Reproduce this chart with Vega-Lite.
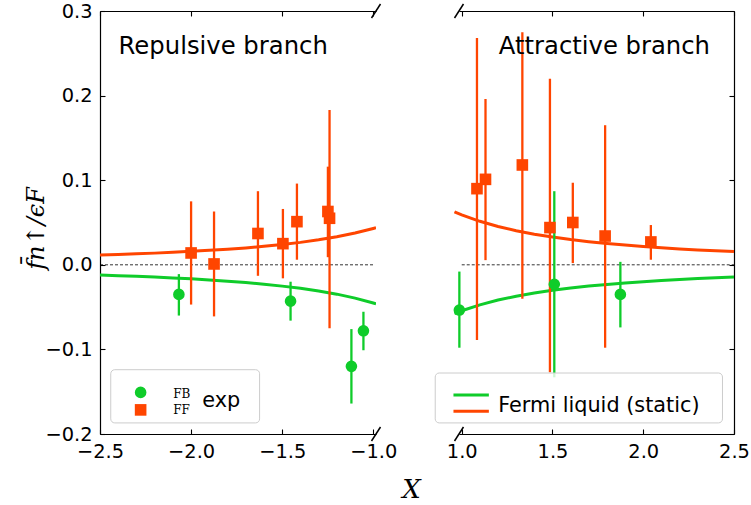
{
  "$schema": "https://vega.github.io/schema/vega-lite/v6.json",
  "background": "white",
  "padding": {"left": 24, "top": 1, "right": 0, "bottom": 0},
  "spacing": 83,
  "bounds": "flush",
  "config": {
    "view": {"stroke": null},
    "font": "DejaVu Sans",
    "axis": {
      "domainColor": "black", "domainWidth": 1.2, "tickColor": "black", "tickWidth": 1.1,
      "labelFont": "DejaVu Sans", "labelFontSize": 19.4, "labelColor": "black", "grid": false,
      "tickSize": -5, "labelPadding": 13, "labelFlush": false, "labelOverlap": false
    }
  },
  "datasets": {
    "leftPts": [
      {"x": -2.0, "y": 0.014, "lo": -0.047, "hi": 0.075, "series": "FF"},
      {"x": -1.874, "y": 0.001, "lo": -0.061, "hi": 0.063, "series": "FF"},
      {"x": -1.633, "y": 0.037, "lo": -0.013, "hi": 0.087, "series": "FF"},
      {"x": -1.496, "y": 0.025, "lo": -0.016, "hi": 0.066, "series": "FF"},
      {"x": -1.419, "y": 0.051, "lo": 0.006, "hi": 0.096, "series": "FF"},
      {"x": -1.249, "y": 0.063, "lo": 0.009, "hi": 0.116, "series": "FF"},
      {"x": -1.240, "y": 0.055, "lo": -0.075, "hi": 0.183, "series": "FF"},
      {"x": -2.067, "y": -0.035, "lo": -0.060, "hi": -0.011, "series": "FB"},
      {"x": -1.454, "y": -0.043, "lo": -0.066, "hi": -0.020, "series": "FB"},
      {"x": -1.120, "y": -0.120, "lo": -0.164, "hi": -0.076, "series": "FB"},
      {"x": -1.054, "y": -0.078, "lo": -0.101, "hi": -0.0555, "series": "FB"}
    ],
    "rightPts": [
      {"x": 1.084, "y": 0.090, "lo": -0.089, "hi": 0.268, "series": "FF"},
      {"x": 1.131, "y": 0.101, "lo": 0.0055, "hi": 0.196, "series": "FF"},
      {"x": 1.334, "y": 0.118, "lo": -0.040, "hi": 0.275, "series": "FF"},
      {"x": 1.486, "y": 0.044, "lo": -0.127, "hi": 0.220, "series": "FF"},
      {"x": 1.612, "y": 0.050, "lo": 0.002, "hi": 0.097, "series": "FF"},
      {"x": 1.790, "y": 0.034, "lo": -0.098, "hi": 0.165, "series": "FF"},
      {"x": 2.042, "y": 0.027, "lo": 0.006, "hi": 0.047, "series": "FF"},
      {"x": 0.987, "y": -0.0535, "lo": -0.098, "hi": -0.008, "series": "FB"},
      {"x": 1.510, "y": -0.023, "lo": -0.133, "hi": 0.087, "series": "FB"},
      {"x": 1.874, "y": -0.035, "lo": -0.074, "hi": 0.0035, "series": "FB"}
    ],
    "leftCurve": [
      {"x": -2.5, "y": 0.0115, "series": "FF"}, {"x": -2.4, "y": 0.0122, "series": "FF"},
      {"x": -2.3, "y": 0.0130, "series": "FF"}, {"x": -2.2, "y": 0.0138, "series": "FF"},
      {"x": -2.1, "y": 0.0148, "series": "FF"}, {"x": -2.0, "y": 0.0159, "series": "FF"},
      {"x": -1.9, "y": 0.0171, "series": "FF"}, {"x": -1.8, "y": 0.0185, "series": "FF"},
      {"x": -1.7, "y": 0.0200, "series": "FF"}, {"x": -1.6, "y": 0.0219, "series": "FF"},
      {"x": -1.5, "y": 0.0240, "series": "FF"}, {"x": -1.4, "y": 0.0265, "series": "FF"},
      {"x": -1.3, "y": 0.0295, "series": "FF"}, {"x": -1.2, "y": 0.0331, "series": "FF"},
      {"x": -1.1, "y": 0.0375, "series": "FF"}, {"x": -1.0, "y": 0.0430, "series": "FF"},
      {"x": -0.985, "y": 0.0439, "series": "FF"},
      {"x": -2.5, "y": -0.0121, "series": "FB"}, {"x": -2.4, "y": -0.0128, "series": "FB"},
      {"x": -2.3, "y": -0.0136, "series": "FB"}, {"x": -2.2, "y": -0.0145, "series": "FB"},
      {"x": -2.1, "y": -0.0155, "series": "FB"}, {"x": -2.0, "y": -0.0166, "series": "FB"},
      {"x": -1.9, "y": -0.0179, "series": "FB"}, {"x": -1.8, "y": -0.0194, "series": "FB"},
      {"x": -1.7, "y": -0.0210, "series": "FB"}, {"x": -1.6, "y": -0.0229, "series": "FB"},
      {"x": -1.5, "y": -0.0252, "series": "FB"}, {"x": -1.4, "y": -0.0278, "series": "FB"},
      {"x": -1.3, "y": -0.0309, "series": "FB"}, {"x": -1.2, "y": -0.0347, "series": "FB"},
      {"x": -1.1, "y": -0.0394, "series": "FB"}, {"x": -1.0, "y": -0.0452, "series": "FB"},
      {"x": -0.985, "y": -0.0462, "series": "FB"}
    ],
    "rightCurve": [
      {"x": 0.96, "y": 0.0626, "series": "FF"}, {"x": 1.0, "y": 0.0590, "series": "FF"},
      {"x": 1.1, "y": 0.0514, "series": "FF"}, {"x": 1.2, "y": 0.0453, "series": "FF"},
      {"x": 1.3, "y": 0.0403, "series": "FF"}, {"x": 1.4, "y": 0.0362, "series": "FF"},
      {"x": 1.5, "y": 0.0328, "series": "FF"}, {"x": 1.6, "y": 0.0298, "series": "FF"},
      {"x": 1.7, "y": 0.0273, "series": "FF"}, {"x": 1.8, "y": 0.0252, "series": "FF"},
      {"x": 1.9, "y": 0.0233, "series": "FF"}, {"x": 2.0, "y": 0.0216, "series": "FF"},
      {"x": 2.1, "y": 0.0201, "series": "FF"}, {"x": 2.2, "y": 0.0188, "series": "FF"},
      {"x": 2.3, "y": 0.0176, "series": "FF"}, {"x": 2.4, "y": 0.0166, "series": "FF"},
      {"x": 2.5, "y": 0.0156, "series": "FF"},
      {"x": 0.96, "y": -0.0576, "series": "FB"}, {"x": 1.0, "y": -0.0543, "series": "FB"},
      {"x": 1.1, "y": -0.0473, "series": "FB"}, {"x": 1.2, "y": -0.0417, "series": "FB"},
      {"x": 1.3, "y": -0.0371, "series": "FB"}, {"x": 1.4, "y": -0.0333, "series": "FB"},
      {"x": 1.5, "y": -0.0302, "series": "FB"}, {"x": 1.6, "y": -0.0274, "series": "FB"},
      {"x": 1.7, "y": -0.0251, "series": "FB"}, {"x": 1.8, "y": -0.0232, "series": "FB"},
      {"x": 1.9, "y": -0.0214, "series": "FB"}, {"x": 2.0, "y": -0.0199, "series": "FB"},
      {"x": 2.1, "y": -0.0185, "series": "FB"}, {"x": 2.2, "y": -0.0173, "series": "FB"},
      {"x": 2.3, "y": -0.0162, "series": "FB"}, {"x": 2.4, "y": -0.0153, "series": "FB"},
      {"x": 2.5, "y": -0.0144, "series": "FB"}
    ],
    "leftZero": [{"x": -2.5, "x2": -1.0, "y": 0}],
    "rightZero": [{"x": 1.0, "x2": 2.5, "y": 0}],
    "leftBreaks": [
      {"x": -1.0097, "x2": -0.9603, "y": 0.2917, "y2": 0.3083},
      {"x": -1.0097, "x2": -0.9603, "y": -0.2083, "y2": -0.1917}
    ],
    "rightBreaks": [
      {"x": 0.9603, "x2": 1.0097, "y": 0.2917, "y2": 0.3083},
      {"x": 0.9603, "x2": 1.0097, "y": -0.2083, "y2": -0.1917}
    ],
    "leftLabel": [{"x": -2.398, "y": 0.2496, "text": "Repulsive branch"}],
    "rightLabel": [{"x": 1.204, "y": 0.2496, "text": "Attractive branch"}],
    "leftLegendBox": [{"x": -2.441, "x2": -1.624, "y": -0.124, "y2": -0.1869}],
    "leftLegendPts": [
      {"x": -2.277, "y": -0.1508, "series": "FB"},
      {"x": -2.277, "y": -0.1715, "series": "FF"}
    ],
    "leftLegendSmall": [
      {"x": -2.098, "y": -0.1579, "text": "FB"},
      {"x": -2.098, "y": -0.1763, "text": "FF"}
    ],
    "leftLegendText": [{"x": -1.939, "y": -0.1685, "text": "exp"}],
    "rightLegendBox": [{"x": 0.854, "x2": 2.4365, "y": -0.1279, "y2": -0.1869}],
    "rightLegendLines": [
      {"x": 0.9545, "x2": 1.1495, "y": -0.1538, "series": "FB"},
      {"x": 0.9545, "x2": 1.1495, "y": -0.1732, "series": "FF"}
    ],
    "rightLegendText": [{"x": 1.201, "y": -0.1744, "text": "Fermi liquid (static)"}]
  },
  "hconcat": [
    {
      "width": 276,
      "height": 423,
      "resolve": {"axis": {"x": "independent", "y": "independent"}},
      "layer": [
        {
          "data": {"name": "leftZero"},
          "mark": {"type": "rule", "color": "black", "strokeWidth": 0.8, "strokeDash": [3, 2]},
          "encoding": {
            "x": {"field": "x", "type": "quantitative", "scale": {"domain": [-2.5, -0.985], "nice": false, "zero": false},
              "axis": {"orient": "bottom", "values": [-2.5, -2, -1.5, -1], "format": ".1f",
                "title": "X", "titleX": 311, "titleY": 55, "titleAlign": "center", "titleBaseline": "middle",
                "titleFont": "DejaVu Serif", "titleFontStyle": "italic", "titleFontWeight": "normal", "titleFontSize": 26, "titleColor": "black"}},
            "x2": {"field": "x2"},
            "y": {"field": "y", "type": "quantitative", "scale": {"domain": [-0.2, 0.3], "nice": false, "zero": false},
              "axis": {"orient": "left", "values": [-0.2, -0.1, 0, 0.1, 0.2, 0.3], "format": ".1f",
                "title": "f̄n↑/ϵF", "titleX": -64, "titleY": 217, "titleAlign": "center", "titleBaseline": "middle", "titleAngle": 270,
                "titleFont": "DejaVu Serif", "titleFontStyle": "italic", "titleFontWeight": "normal", "titleFontSize": 24, "titleColor": "black"}}
          }
        },
        {
          "data": {"name": "leftCurve"},
          "mark": {"type": "line", "strokeWidth": 3, "clip": true},
          "encoding": {
            "x": {"field": "x", "type": "quantitative", "axis": {"orient": "top", "values": [-2.5, -2, -1.5, -1], "labels": false, "title": null}},
            "y": {"field": "y", "type": "quantitative", "axis": null},
            "color": {"field": "series", "type": "nominal", "scale": {"domain": ["FB", "FF"], "range": ["#0fcc2a", "#ff4500"]}, "legend": null},
            "detail": {"field": "series"}
          }
        },
        {
          "data": {"name": "leftPts"},
          "mark": {"type": "rule", "strokeWidth": 2.3},
          "encoding": {
            "x": {"field": "x", "type": "quantitative", "axis": null},
            "y": {"field": "lo", "type": "quantitative", "axis": null},
            "y2": {"field": "hi"},
            "color": {"field": "series", "type": "nominal", "legend": null}
          }
        },
        {
          "data": {"name": "leftPts"},
          "mark": {"type": "point", "filled": true, "opacity": 1, "size": 135},
          "encoding": {
            "x": {"field": "x", "type": "quantitative", "axis": null},
            "y": {"field": "y", "type": "quantitative", "axis": null},
            "color": {"field": "series", "type": "nominal", "legend": null},
            "shape": {"field": "series", "type": "nominal", "scale": {"domain": ["FB", "FF"], "range": ["circle", "square"]}, "legend": null}
          }
        },
        {
          "data": {"name": "leftLabel"},
          "mark": {"type": "text", "fontSize": 24.3, "align": "left", "baseline": "alphabetic", "color": "black", "font": "DejaVu Sans"},
          "encoding": {
            "x": {"field": "x", "type": "quantitative", "axis": null},
            "y": {"field": "y", "type": "quantitative", "axis": null},
            "text": {"field": "text"}
          }
        },
        {
          "data": {"name": "leftBreaks"},
          "mark": {"type": "rule", "color": "black", "strokeWidth": 1.5, "clip": false},
          "encoding": {
            "x": {"field": "x", "type": "quantitative", "axis": null},
            "x2": {"field": "x2"},
            "y": {"field": "y", "type": "quantitative", "axis": null},
            "y2": {"field": "y2"}
          }
        },
        {
          "data": {"name": "leftLegendBox"},
          "mark": {"type": "rect", "fill": "white", "fillOpacity": 0.8, "stroke": "#cccccc", "strokeWidth": 1, "cornerRadius": 4},
          "encoding": {
            "x": {"field": "x", "type": "quantitative", "axis": null},
            "x2": {"field": "x2"},
            "y": {"field": "y", "type": "quantitative", "axis": null},
            "y2": {"field": "y2"}
          }
        },
        {
          "data": {"name": "leftLegendPts"},
          "mark": {"type": "point", "filled": true, "opacity": 1, "size": 135},
          "encoding": {
            "x": {"field": "x", "type": "quantitative", "axis": null},
            "y": {"field": "y", "type": "quantitative", "axis": null},
            "color": {"field": "series", "type": "nominal", "legend": null},
            "shape": {"field": "series", "type": "nominal", "legend": null}
          }
        },
        {
          "data": {"name": "leftLegendSmall"},
          "mark": {"type": "text", "fontSize": 12, "align": "left", "baseline": "alphabetic", "color": "black", "font": "DejaVu Serif"},
          "encoding": {
            "x": {"field": "x", "type": "quantitative", "axis": null},
            "y": {"field": "y", "type": "quantitative", "axis": null},
            "text": {"field": "text"}
          }
        },
        {
          "data": {"name": "leftLegendText"},
          "mark": {"type": "text", "fontSize": 20.8, "align": "left", "baseline": "alphabetic", "color": "black", "font": "DejaVu Sans"},
          "encoding": {
            "x": {"field": "x", "type": "quantitative", "axis": null},
            "y": {"field": "y", "type": "quantitative", "axis": null},
            "text": {"field": "text"}
          }
        }
      ]
    },
    {
      "width": 275,
      "height": 423,
      "resolve": {"axis": {"x": "independent", "y": "independent"}},
      "layer": [
        {
          "data": {"name": "rightZero"},
          "mark": {"type": "rule", "color": "black", "strokeWidth": 0.8, "strokeDash": [3, 2]},
          "encoding": {
            "x": {"field": "x", "type": "quantitative", "scale": {"domain": [0.985, 2.5], "nice": false, "zero": false},
              "axis": {"orient": "bottom", "values": [1, 1.5, 2, 2.5], "format": ".1f", "title": null}},
            "x2": {"field": "x2"},
            "y": {"field": "y", "type": "quantitative", "scale": {"domain": [-0.2, 0.3], "nice": false, "zero": false},
              "axis": {"orient": "right", "values": [-0.2, -0.1, 0, 0.1, 0.2, 0.3], "labels": false, "title": null}}
          }
        },
        {
          "data": {"name": "rightCurve"},
          "mark": {"type": "line", "strokeWidth": 3, "clip": false},
          "encoding": {
            "x": {"field": "x", "type": "quantitative", "axis": {"orient": "top", "values": [1, 1.5, 2, 2.5], "labels": false, "title": null}},
            "y": {"field": "y", "type": "quantitative", "axis": null},
            "color": {"field": "series", "type": "nominal", "scale": {"domain": ["FB", "FF"], "range": ["#0fcc2a", "#ff4500"]}, "legend": null},
            "detail": {"field": "series"}
          }
        },
        {
          "data": {"name": "rightPts"},
          "mark": {"type": "rule", "strokeWidth": 2.3},
          "encoding": {
            "x": {"field": "x", "type": "quantitative", "axis": null},
            "y": {"field": "lo", "type": "quantitative", "axis": null},
            "y2": {"field": "hi"},
            "color": {"field": "series", "type": "nominal", "legend": null}
          }
        },
        {
          "data": {"name": "rightPts"},
          "mark": {"type": "point", "filled": true, "opacity": 1, "size": 135},
          "encoding": {
            "x": {"field": "x", "type": "quantitative", "axis": null},
            "y": {"field": "y", "type": "quantitative", "axis": null},
            "color": {"field": "series", "type": "nominal", "legend": null},
            "shape": {"field": "series", "type": "nominal", "scale": {"domain": ["FB", "FF"], "range": ["circle", "square"]}, "legend": null}
          }
        },
        {
          "data": {"name": "rightLabel"},
          "mark": {"type": "text", "fontSize": 24.3, "align": "left", "baseline": "alphabetic", "color": "black", "font": "DejaVu Sans"},
          "encoding": {
            "x": {"field": "x", "type": "quantitative", "axis": null},
            "y": {"field": "y", "type": "quantitative", "axis": null},
            "text": {"field": "text"}
          }
        },
        {
          "data": {"name": "rightBreaks"},
          "mark": {"type": "rule", "color": "black", "strokeWidth": 1.5, "clip": false},
          "encoding": {
            "x": {"field": "x", "type": "quantitative", "axis": null},
            "x2": {"field": "x2"},
            "y": {"field": "y", "type": "quantitative", "axis": null},
            "y2": {"field": "y2"}
          }
        },
        {
          "data": {"name": "rightLegendBox"},
          "mark": {"type": "rect", "fill": "white", "fillOpacity": 0.8, "stroke": "#cccccc", "strokeWidth": 1, "cornerRadius": 4, "clip": false},
          "encoding": {
            "x": {"field": "x", "type": "quantitative", "axis": null},
            "x2": {"field": "x2"},
            "y": {"field": "y", "type": "quantitative", "axis": null},
            "y2": {"field": "y2"}
          }
        },
        {
          "data": {"name": "rightLegendLines"},
          "mark": {"type": "rule", "strokeWidth": 3, "clip": false},
          "encoding": {
            "x": {"field": "x", "type": "quantitative", "axis": null},
            "x2": {"field": "x2"},
            "y": {"field": "y", "type": "quantitative", "axis": null},
            "color": {"field": "series", "type": "nominal", "legend": null}
          }
        },
        {
          "data": {"name": "rightLegendText"},
          "mark": {"type": "text", "fontSize": 20.8, "align": "left", "baseline": "alphabetic", "color": "black", "font": "DejaVu Sans"},
          "encoding": {
            "x": {"field": "x", "type": "quantitative", "axis": null},
            "y": {"field": "y", "type": "quantitative", "axis": null},
            "text": {"field": "text"}
          }
        }
      ]
    }
  ]
}
